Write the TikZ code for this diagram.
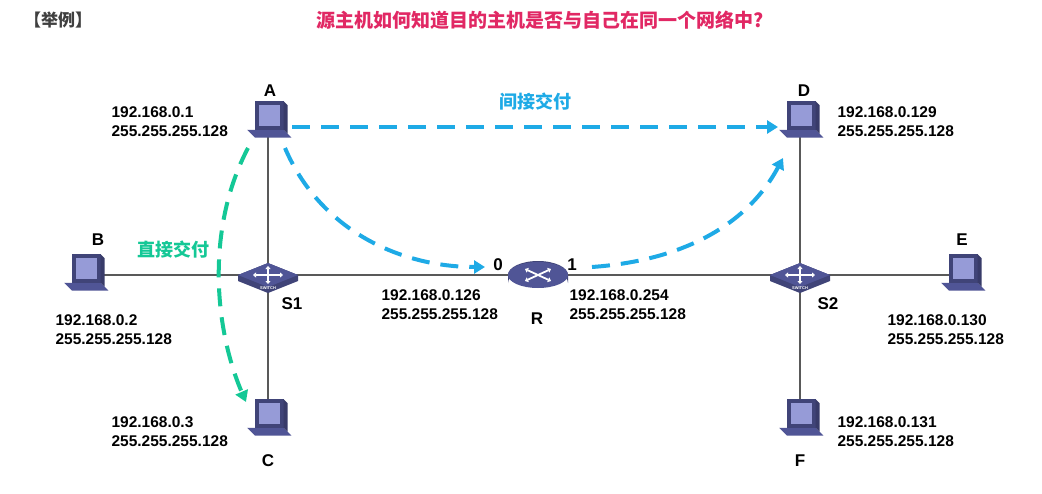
\documentclass[tikz,border=0pt]{standalone}
\usepackage{fontspec}
\setmainfont{Liberation Sans}
\newfontfamily\cjk{Noto Sans CJK SC}
\usetikzlibrary{arrows.meta}
\definecolor{dev}{RGB}{80,85,150}
\definecolor{devl}{RGB}{150,155,215}
\definecolor{blu}{RGB}{30,170,230}
\definecolor{grn}{RGB}{20,200,150}
\definecolor{ttl}{RGB}{225,40,100}
\tikzset{
 lbl/.style={font=\bfseries\fontsize{15.5}{19}\selectfont, align=left},
 devname/.style={font=\bfseries\fontsize{17}{19}\selectfont},
 link/.style={draw=black!65, line width=2pt},
 ind/.style={blu, line width=4pt, dash pattern=on 18pt off 11pt, -{Triangle[length=11pt,width=13pt]}},
 dir/.style={grn, line width=4pt, dash pattern=on 18pt off 11pt, -{Triangle[length=11pt,width=13pt]}},
 pc/.pic={
  \begin{scope}[scale=1.3]
  \fill[dev] (-16,6) -- (12,6) -- (18,12) -- (-10,12) -- cycle;
  \fill[dev!80!black] (-10,-16) rectangle (12,6);
  \fill[devl] (-7,-13) rectangle (9,3);
  \fill[dev!70!black] (12,-16) -- (15,-13) -- (15,9) -- (12,6) -- cycle;
  \end{scope}
 },
 sw/.pic={
  \fill[dev!80!black] (-30,0) -- (0,-12) -- (30,0) -- (30,6) -- (0,18) -- (-30,6) -- cycle;
  \fill[dev] (-30,0) -- (0,-12) -- (30,0) -- (0,12) -- cycle;
  \draw[white, line width=1.8pt, {Triangle[length=3pt,width=5pt]}-{Triangle[length=3pt,width=5pt]}] (-15,0) -- (15,0);
  \draw[white, line width=1.8pt, {Triangle[length=3pt,width=5pt]}-{Triangle[length=3pt,width=5pt]}] (0,-9) -- (0,9);
  \node[white, font=\fontsize{4}{5}\selectfont\bfseries] at (0,13) {SWITCH};
 },
 rt/.pic={
  \fill[dev!80!black] (-30,0) arc[start angle=180,end angle=360,x radius=30,y radius=14] -- (30,8) arc[start angle=0,end angle=-180,x radius=30,y radius=14] -- cycle;
  \fill[dev] (0,0) ellipse[x radius=30,y radius=13];
  \draw[white, line width=1.8pt, {Triangle[length=3pt,width=5pt]}-{Triangle[length=3pt,width=5pt]}] (-13,-6) -- (13,6);
  \draw[white, line width=1.8pt, {Triangle[length=3pt,width=5pt]}-{Triangle[length=3pt,width=5pt]}] (-13,6) -- (13,-6);
  \node[white, font=\fontsize{4.5}{5}\selectfont\bfseries] at (0,16) {ROUTER};
 }
}
\begin{document}
\begin{tikzpicture}[x=1pt,y=-1pt]
\useasboundingbox (0,0) rectangle (1042,493);
\fill[white] (0,0) rectangle (1042,493);
\coordinate (A) at (268,122); \coordinate (B) at (85,275); \coordinate (C) at (268,420);
\coordinate (D) at (800,122); \coordinate (E) at (962,275); \coordinate (F) at (800,420);
\coordinate (S1) at (268,275); \coordinate (S2) at (800,275); \coordinate (R) at (538,275);
\draw[link] (A) -- (C); \draw[link] (B) -- (S1) -- (R) -- (S2) -- (E); \draw[link] (D) -- (F);
\pic at (A) {pc}; \pic at (B) {pc}; \pic at (C) {pc}; \pic at (D) {pc}; \pic at (E) {pc}; \pic at (F) {pc};
\pic at (S1) {sw}; \pic at (S2) {sw}; \pic at (R) {rt};
\node[font=\cjk\bfseries\fontsize{17}{19}\selectfont, text=black!75] (ex) at (58,20) {【举例】};
\node[font=\cjk\bfseries\fontsize{19}{21}\selectfont, text=ttl] (tt) at (540,20) {源主机如何知道目的主机是否与自己在同一个网络中?};
\node[devname] (nA) at (270,91) {A}; \node[devname] (nB) at (98,240) {B}; \node[devname] (nC) at (268,461) {C};
\node[devname] (nD) at (804,91) {D}; \node[devname] (nE) at (962,240) {E}; \node[devname] (nF) at (800,461) {F};
\node[devname] (nS1) at (292,304) {S1}; \node[devname] (nS2) at (828,304) {S2}; \node[devname] (nR) at (537,319) {R};
\node[devname] (n0) at (498,265) {0}; \node[devname] (n1) at (572,265) {1};
\node[lbl, anchor=west] (lA) at (108,122) {192.168.0.1\\255.255.255.128};
\node[lbl, anchor=west] (lB) at (52,330) {192.168.0.2\\255.255.255.128};
\node[lbl, anchor=west] (lC) at (108,432) {192.168.0.3\\255.255.255.128};
\node[lbl, anchor=west] (lD) at (834,122) {192.168.0.129\\255.255.255.128};
\node[lbl, anchor=west] (lE) at (884,330) {192.168.0.130\\255.255.255.128};
\node[lbl, anchor=west] (lF) at (834,432) {192.168.0.131\\255.255.255.128};
\node[lbl, anchor=west] (l0) at (378,305) {192.168.0.126\\255.255.255.128};
\node[lbl, anchor=west] (l1) at (566,305) {192.168.0.254\\255.255.255.128};
\node[font=\cjk\bfseries\fontsize{18}{20}\selectfont, text=blu] (ij) at (535,102) {间接交付};
\node[font=\cjk\bfseries\fontsize{18}{20}\selectfont, text=grn] (zj) at (173,250) {直接交付};
\coordinate (a1) at (292,127); \coordinate (d1) at (778,127);
\draw[ind] (a1) -- (d1);
\coordinate (a2) at (285,148); \coordinate (r0) at (485,267);
\draw[ind] (a2) .. controls (320,230) and (400,267) .. (r0);
\coordinate (r1) at (592,267); \coordinate (d2) at (783,158);
\draw[ind] (r1) .. controls (690,260) and (750,220) .. (d2);
\coordinate (a3) at (248,148); \coordinate (c3) at (246,402);
\draw[dir] (a3) .. controls (205,230) and (215,330) .. (c3);
\end{tikzpicture}
\end{document}
